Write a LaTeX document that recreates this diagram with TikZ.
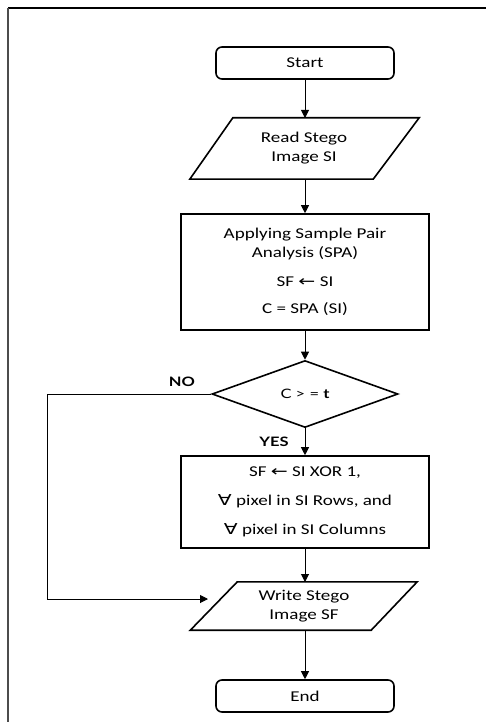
\documentclass[tikz,border=0pt]{standalone}
\usepackage{fontspec}
\setmainfont[FakeStretch=1.27]{Carlito}
\newfontfamily\gillf[FakeStretch=1.27]{Lato}
\newfontfamily\djf[FakeStretch=1.35]{DejaVu Sans}
\usetikzlibrary{shapes.geometric,arrows.meta}
\newcommand{\larr}{{\djf\fontsize{15}{15}\selectfont ←}}
\newcommand{\fall}{{\djf\fontsize{15}{15}\selectfont ∀}}
\begin{document}
\begin{tikzpicture}[x=1pt,y=-1pt,
  every node/.style={font=\fontsize{15}{19}\selectfont},
  shapeline/.style={draw=black, line width=1.6pt},
  term/.style={shapeline, rounded corners=6pt, minimum width=178pt, minimum height=32pt, inner sep=0pt},
  proc/.style={shapeline, minimum width=248pt, align=center, inner sep=0pt},
  iotext/.style={align=center, inner sep=0pt},
  decision/.style={shapeline, diamond, minimum width=186pt, minimum height=67pt, inner sep=0pt, font=\gillf\fontsize{13}{16}\selectfont},
  lbl/.style={font=\gillf\bfseries\fontsize{13}{16}\selectfont, inner sep=0pt},
  conn/.style={line width=1pt, -{Triangle[length=8pt,width=8pt]}},
  frameline/.style={line width=2pt},
]
\useasboundingbox (0,0) rectangle (486,722);
% frame
\coordinate (f1) at (486,8);
\coordinate (f2) at (7.5,8);
\coordinate (f3) at (7.5,722);
\draw[frameline, black] (f1) -- (f2);
\draw[frameline, black!70] (f2) -- (f3);

% nodes
\node[term] (start) at (305,63) {Start};

\node[iotext, minimum width=184pt, minimum height=61pt] (read) at (304,148.5) {Read Stego\\Image SI};
\draw[shapeline] ([xshift=-22pt]read.south west) -- ([xshift=21pt]read.north west) -- ([xshift=23pt]read.north east) -- ([xshift=-23pt]read.south east) -- cycle;

\node[proc, minimum height=116pt] (spa) at (305,272) {Applying Sample Pair\\Analysis (SPA)\\[10pt]SF \larr{} SI\\[8pt]C = SPA (SI)};

\node[decision] (dec) at (305,394) {C > = {\bfseries t}};

\node[proc, minimum height=92pt] (xor) at (305,502) {SF \larr{} SI XOR 1,\\[10pt]\fall{} pixel in SI Rows, and\\[10pt]\fall{} pixel in SI Columns};

\node[iotext, minimum width=180pt, minimum height=48pt] (write) at (304,606) {Write Stego\\Image SF};
\draw[shapeline] ([xshift=-23.5pt]write.south west) -- ([xshift=23.5pt]write.north west) -- ([xshift=23pt]write.north east) -- ([xshift=-23pt]write.south east) -- cycle;

\node[term] (end) at (305,696) {End};

\node[lbl] (no) at (182,382) {NO};
\node[lbl] (yes) at (274,442) {YES};

% connectors
\coordinate (readtop) at (305,118);
\coordinate (readbot) at (305,179);
\coordinate (writetop) at (305,582);
\coordinate (writebot) at (305,630);
\coordinate (nocorner) at (47,599);
\coordinate (noend) at (208,599);

\draw[conn] (start.south) -- (readtop);
\draw[conn] (readbot) -- (spa.north);
\draw[conn] (spa.south) -- (dec.north);
\draw[conn] (dec.south) -- (xor.north);
\draw[conn] (xor.south) -- (writetop);
\draw[conn] (writebot) -- (end.north);
\draw[conn] (dec.west) -| (nocorner) -- (noend);
\end{tikzpicture}
\end{document}
